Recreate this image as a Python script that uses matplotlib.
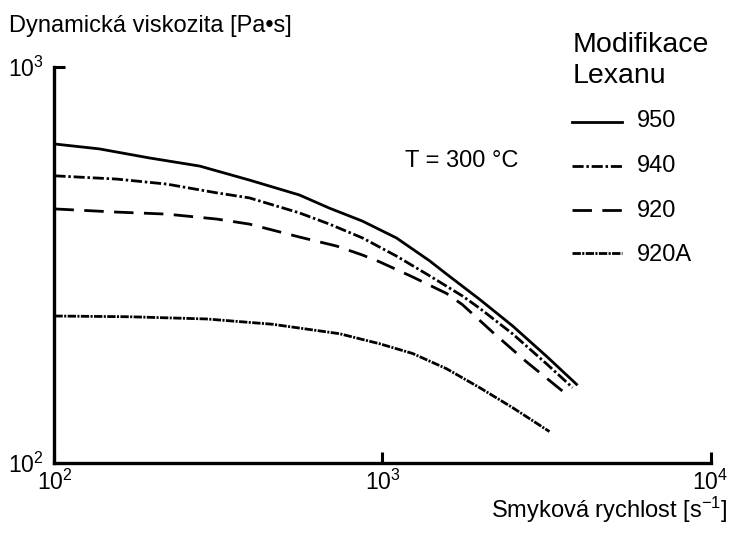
import matplotlib
matplotlib.use("Agg")
import matplotlib.pyplot as plt

plt.rcParams['font.family'] = ['Liberation Sans', 'DejaVu Sans']
plt.rcParams['mathtext.fontset'] = 'custom'
plt.rcParams['mathtext.rm'] = 'Liberation Sans'
plt.rcParams['mathtext.it'] = 'Liberation Sans'
plt.rcParams['lines.scale_dashes'] = False

# smyková rychlost [1/s] a viskozita [Pa.s]
x_950 = [100, 137, 195, 277, 393, 558, 689, 869, 1103, 1391, 1567, 1976, 2490, 3162, 3904]
y_950 = [639, 621, 589, 562, 518, 475, 440, 408, 370, 324, 300, 259, 222, 186, 158]

x_940 = [100, 155, 220, 312, 393, 558, 689, 869, 1103, 1391, 1753, 1976, 2490, 3162, 3796]
y_940 = [531, 521, 506, 481, 467, 428, 401, 370, 333, 297, 264, 246, 212, 178, 155]

x_920 = [100, 155, 220, 312, 393, 558, 724, 869, 980, 1235, 1567, 1753, 2165, 2748, 3640]
y_920 = [438, 430, 425, 413, 401, 372, 353, 335, 322, 295, 268, 251, 214, 180, 149]

x_920a = [100, 169, 291, 462, 740, 980, 1235, 1567, 1976, 2490, 3229]
y_920a = [235, 234, 231, 224, 212, 200, 189, 173, 155, 138, 120]

labels = ['950', '940', '920', '920A']
styles = ['-', (0, (8, 2, 1.8, 2)), (0, (14, 7.5)), (0, (6, 1, 1.5, 1))]
series = [(x_950, y_950), (x_940, y_940), (x_920, y_920), (x_920a, y_920a)]

fig = plt.figure(figsize=(7.31, 5.33), dpi=100)
ax = fig.add_axes([0.0745, 0.1314, 0.8975, 0.743])

for (xs, ys), ls in zip(series, styles):
    ax.plot(xs, ys, color='black', lw=2.0, linestyle=ls)

ax.set_xscale('log')
ax.set_yscale('log')
ax.set_xlim(100, 10000)
ax.set_ylim(100, 1000)
ax.set_xticks([100, 1000, 10000])
ax.set_xticklabels([r'$10^{2}$', r'$10^{3}$', r'$10^{4}$'])
ax.set_yticks([100, 1000])
ax.set_yticklabels([r'$10^{2}$', r'$10^{3}$'])
ax.minorticks_off()
ax.tick_params(direction='in', length=8, width=2.2, labelsize=16.5, pad=5)
ax.tick_params(axis='y', pad=8)
for s in ['top', 'right']:
    ax.spines[s].set_visible(False)
for s in ['left', 'bottom']:
    ax.spines[s].set_linewidth(2.4)

fig.text(0.012, 0.94, 'Dynamická viskozita [Pa•s]', fontsize=17, va='baseline')
fig.text(0.996, 0.028, r'Smyková rychlost [s$^{\mathregular{-1}}$]', fontsize=17,
         ha='right', va='baseline')
fig.text(0.554, 0.687, 'T = 300 °C', fontsize=17, va='baseline')

# legenda vpravo
fig.text(0.783, 0.9024, 'Modifikace', fontsize=20.5, va='baseline')
fig.text(0.783, 0.8443, 'Lexanu', fontsize=20.5, va='baseline')
line_y = [0.7711, 0.6886, 0.606, 0.5253]
text_y = [0.7617, 0.6773, 0.5929, 0.5103]
for ly, ty, lab, ls in zip(line_y, text_y, labels, styles):
    fig.lines.append(plt.Line2D([0.7825, 0.851], [ly, ly], color='black', lw=2.0,
                                linestyle=ls, transform=fig.transFigure))
    fig.text(0.871, ty, lab, fontsize=17, va='baseline')

fig.savefig('out.png', dpi=100)
